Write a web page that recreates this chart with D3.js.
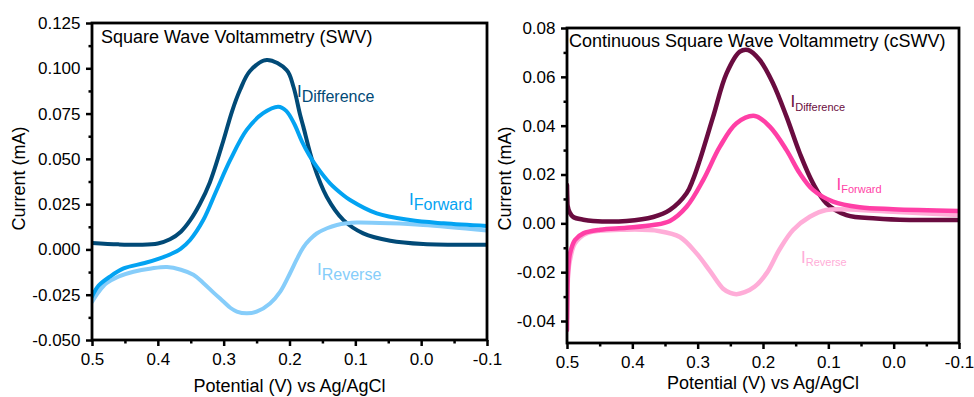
<!DOCTYPE html>
<html>
<head>
<meta charset="utf-8">
<script src="https://cdn.jsdelivr.net/npm/d3@7"></script>
<style>
  body { margin: 0; background: #fff; }
  svg { display: block; font-family: "Liberation Sans", Arial, sans-serif; }
</style>
</head>
<body>
<svg id="chart" width="974" height="397"></svg>
<script>
// [potential (V), current (mA)]
const swvDifference = [
  [0.5, 0.0036], [0.46, 0.0028], [0.427, 0.0026], [0.40, 0.0033], [0.3815, 0.0056],
  [0.365, 0.0098], [0.351, 0.016], [0.336, 0.0252], [0.321, 0.037], [0.3005, 0.06],
  [0.2875, 0.076], [0.2752, 0.088], [0.26, 0.0985], [0.2346, 0.1046], [0.2043, 0.099],
  [0.194, 0.0898], [0.184, 0.0745], [0.179, 0.0678], [0.164, 0.0475], [0.1435, 0.0291],
  [0.118, 0.0162], [0.088, 0.0089], [0.047, 0.0048], [-0.003, 0.003], [-0.1, 0.0026]
];
const swvForward = [
  [0.5, -0.026], [0.49, -0.020], [0.4727, -0.015], [0.452, -0.0105], [0.42, -0.0075],
  [0.397, -0.0049], [0.38, -0.0025], [0.365, 0.0005], [0.351, 0.0052], [0.331, 0.0162],
  [0.3106, 0.0328], [0.29, 0.0494], [0.265, 0.066], [0.24, 0.0752], [0.217, 0.0788],
  [0.205, 0.0765], [0.193, 0.0695], [0.181, 0.0595], [0.17, 0.052], [0.1587, 0.0457],
  [0.1385, 0.0365], [0.12, 0.0305], [0.108, 0.0273], [0.0675, 0.0199], [0.017, 0.0162],
  [-0.034, 0.0144], [-0.1, 0.0129]
];
const swvReverse = [
  [0.5, -0.029], [0.49, -0.0235], [0.478, -0.0187], [0.46, -0.015], [0.437, -0.0123],
  [0.41, -0.0105], [0.386, -0.0097], [0.365, -0.0112], [0.346, -0.014], [0.331, -0.0185],
  [0.315, -0.024], [0.3, -0.0289], [0.29, -0.0322], [0.28, -0.0343], [0.265, -0.0353],
  [0.25, -0.0344], [0.2296, -0.0298], [0.214, -0.0233], [0.199, -0.013], [0.189, -0.0055],
  [0.179, 0.0012], [0.169, 0.0055], [0.1587, 0.0088], [0.143, 0.0117], [0.128, 0.0135],
  [0.113, 0.0144], [0.098, 0.0148], [0.047, 0.0144], [-0.003, 0.0135], [-0.1, 0.0104]
];

const cswvDifference = [
  [0.5, 0.0157], [0.4995, 0.0100], [0.499, 0.0072], [0.496, 0.0045], [0.4904, 0.0026],
  [0.475, 0.0015], [0.46, 0.001], [0.4087, 0.001], [0.368, 0.0026], [0.3425, 0.0055],
  [0.317, 0.0123], [0.307, 0.018], [0.2966, 0.026], [0.2763, 0.0437], [0.2558, 0.0614],
  [0.2355, 0.0703], [0.2228, 0.071], [0.205, 0.0669], [0.1846, 0.0573], [0.164, 0.0437],
  [0.1437, 0.0287], [0.1234, 0.0164], [0.103, 0.0082], [0.0723, 0.0034], [0.0265, 0.002],
  [-0.0245, 0.0014], [-0.1, 0.0014]
];
const cswvForward = [
  [0.5, -0.0437], [0.4995, -0.031], [0.499, -0.024], [0.498, -0.018], [0.4954, -0.0123],
  [0.4878, -0.0068], [0.475, -0.0041], [0.4495, -0.0026], [0.4087, -0.0018], [0.368, -0.0007],
  [0.3425, 0.001], [0.317, 0.0068], [0.2916, 0.0177], [0.266, 0.0314], [0.2405, 0.041],
  [0.2125, 0.044], [0.1896, 0.0396], [0.164, 0.03], [0.1437, 0.0205], [0.1234, 0.0137],
  [0.0928, 0.0089], [0.052, 0.0066], [0.001, 0.0058], [-0.1, 0.0051]
];
const cswvReverse = [
  [0.5, -0.039], [0.4995, -0.033], [0.499, -0.026], [0.498, -0.020], [0.4954, -0.015],
  [0.4878, -0.0082], [0.47, -0.0041], [0.4087, -0.0026], [0.358, -0.0032], [0.3272, -0.0056],
  [0.3017, -0.0123], [0.2813, -0.0195], [0.261, -0.0268], [0.25, -0.0285], [0.2405, -0.029],
  [0.228, -0.0282], [0.213, -0.026], [0.1947, -0.0205], [0.1743, -0.0105], [0.154, -0.0027],
  [0.1284, 0.0027], [0.103, 0.0055], [0.052, 0.0055], [0.001, 0.0048], [-0.1, 0.0034]
];

const xTicks = [0.5, 0.4, 0.3, 0.2, 0.1, 0.0, -0.1];
const xMinor = [0.45, 0.35, 0.25, 0.15, 0.05, -0.05];
const swvYTicks = [-0.05, -0.025, 0, 0.025, 0.05, 0.075, 0.1, 0.125];
const swvYMinor = [-0.0375, -0.0125, 0.0125, 0.0375, 0.0625, 0.0875, 0.1125];
const cswvYTicks = [-0.04, -0.02, 0, 0.02, 0.04, 0.06, 0.08];
const cswvYMinor = [-0.03, -0.01, 0.01, 0.03, 0.05, 0.07];

const svg = d3.select('#chart');

function panel(opt) {
  const x = d3.scaleLinear().domain([0.5, -0.1]).range([opt.left, opt.right]);
  const y = d3.scaleLinear().domain(opt.yDomain).range([opt.bottom, opt.top]);
  const g = svg.append('g');

  const clipId = 'clip' + opt.left;
  g.append('clipPath').attr('id', clipId)
    .append('rect')
      .attr('x', opt.left).attr('y', opt.top)
      .attr('width', opt.right - opt.left).attr('height', opt.bottom - opt.top);

  const line = d3.line()
    .x(d => x(d[0]))
    .y(d => y(d[1]))
    .curve(d3.curveCatmullRom.alpha(0.5));

  const curves = g.append('g').attr('clip-path', 'url(#' + clipId + ')');
  opt.series.forEach(s => {
    curves.append('path')
      .attr('d', line(s.data))
      .attr('fill', 'none')
      .attr('stroke', s.color)
      .attr('stroke-width', opt.lineWidth)
      .attr('stroke-linecap', 'round')
      .attr('stroke-linejoin', 'round');
  });

  // axes (ticks outside, no domain path; frame is drawn separately)
  g.append('g').attr('transform', `translate(0,${opt.bottom})`)
    .call(d3.axisBottom(x).tickValues(xTicks).tickSize(6).tickPadding(7)
      .tickFormat(d => d.toFixed(1)));
  g.append('g').attr('transform', `translate(0,${opt.bottom})`)
    .call(d3.axisBottom(x).tickValues(xMinor).tickSize(3.5).tickFormat(''));
  g.append('g').attr('transform', `translate(${opt.left},0)`)
    .call(d3.axisLeft(y).tickValues(opt.yTicks).tickSize(6).tickPadding(5.5)
      .tickFormat(d => d.toFixed(opt.yDigits)));
  g.append('g').attr('transform', `translate(${opt.left},0)`)
    .call(d3.axisLeft(y).tickValues(opt.yMinor).tickSize(3.5).tickFormat(''));

  g.selectAll('.domain').remove();
  g.selectAll('.tick line').attr('stroke', '#000').attr('stroke-width', 2.5);
  g.selectAll('.tick text').attr('fill', '#000').style('font-size', '17px')
    .style('font-family', '"Liberation Sans", Arial, sans-serif');

  g.append('rect')
    .attr('x', opt.left).attr('y', opt.top)
    .attr('width', opt.right - opt.left).attr('height', opt.bottom - opt.top)
    .attr('fill', 'none').attr('stroke', '#000').attr('stroke-width', 2.8);

  g.append('text')
    .attr('x', opt.left + opt.titleDx).attr('y', opt.titleY)
    .style('font-size', '18px').attr('fill', '#000')
    .text(opt.title);

  g.append('text')
    .attr('x', (opt.left + opt.right) / 2).attr('y', opt.xLabelY)
    .attr('text-anchor', 'middle').style('font-size', '18px')
    .text('Potential (V) vs Ag/AgCl');

  g.append('text')
    .attr('transform', `translate(${opt.yLabelX},178.5) rotate(-90)`)
    .attr('text-anchor', 'middle').style('font-size', '18px')
    .text('Current (mA)');

  opt.labels.forEach(l => {
    const t = g.append('text')
      .attr('x', l.x).attr('y', l.y).attr('fill', l.color);
    t.append('tspan').style('font-size', '17px').text('I');
    t.append('tspan').attr('dy', l.dy).style('font-size', l.subSize).text(l.sub);
  });
}

panel({
  left: 92, right: 487, top: 23, bottom: 340,
  yDomain: [-0.05, 0.125], yTicks: swvYTicks, yMinor: swvYMinor, yDigits: 3,
  lineWidth: 4,
  title: 'Square Wave Voltammetry (SWV)', titleDx: 9, titleY: 43,
  xLabelY: 392, yLabelX: 25,
  series: [
    { data: swvDifference, color: '#014a77' },
    { data: swvReverse, color: '#86cdfa' },
    { data: swvForward, color: '#03a3f2' }
  ],
  labels: [
    { x: 297, y: 97, dy: 4.5, sub: 'Difference', subSize: '16px', color: '#014a77' },
    { x: 409, y: 205, dy: 5, sub: 'Forward', subSize: '16px', color: '#03a3f2' },
    { x: 317, y: 275, dy: 5, sub: 'Reverse', subSize: '16px', color: '#86cdfa' }
  ]
});

panel({
  left: 567, right: 959, top: 28, bottom: 343,
  yDomain: [-0.049, 0.08], yTicks: cswvYTicks, yMinor: cswvYMinor, yDigits: 2,
  lineWidth: 4.5,
  title: 'Continuous Square Wave Voltammetry (cSWV)', titleDx: 2, titleY: 47,
  xLabelY: 389, yLabelX: 511,
  series: [
    { data: cswvDifference, color: '#6a0c40' },
    { data: cswvReverse, color: '#ffadd8' },
    { data: cswvForward, color: '#ff3fa6' }
  ],
  labels: [
    { x: 790.5, y: 107, dy: 4, sub: 'Difference', subSize: '11px', color: '#6a0c40' },
    { x: 836.5, y: 190, dy: 3, sub: 'Forward', subSize: '11px', color: '#ff3fa6' },
    { x: 801, y: 263, dy: 2.5, sub: 'Reverse', subSize: '11px', color: '#ffadd8' }
  ]
});
</script>
</body>
</html>
